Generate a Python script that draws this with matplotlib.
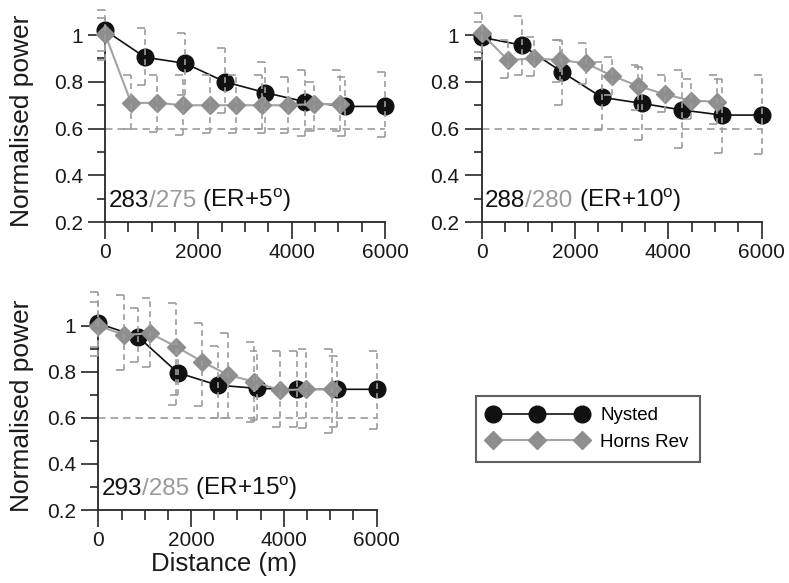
import matplotlib
matplotlib.use("Agg")
import matplotlib.pyplot as plt
from matplotlib.offsetbox import TextArea, HPacker, AnchoredOffsetbox
from matplotlib.ticker import MultipleLocator, FixedLocator, FuncFormatter

plt.rcParams['font.family'] = ['Liberation Sans', 'DejaVu Sans']
plt.rcParams['mathtext.fontset'] = 'custom'
plt.rcParams['mathtext.rm'] = 'Liberation Sans'
plt.rcParams['mathtext.it'] = 'Liberation Sans:italic'

# Distances (m) of the row positions for each farm
nysted_x = [0, 857, 1714, 2571, 3429, 4286, 5143, 6000]
hornsrev_x = [0, 560, 1120, 1680, 2240, 2800, 3360, 3920, 4480, 5040]

# Sector ER+5
ny5 = [1.02, 0.905, 0.879, 0.80, 0.754, 0.715, 0.695, 0.695]
ny5_lo = [0.93, 0.786, 0.745, 0.667, 0.58, 0.57, 0.57, 0.565]
ny5_hi = [1.107, 1.03, 1.008, 0.944, 0.886, 0.85, 0.82, 0.84]
hr5 = [1.005, 0.71, 0.71, 0.70, 0.70, 0.70, 0.70, 0.70, 0.705, 0.705]
hr5_lo = [0.893, 0.598, 0.586, 0.573, 0.58, 0.58, 0.60, 0.58, 0.59, 0.59]
hr5_hi = [1.073, 0.829, 0.83, 0.83, 0.83, 0.83, 0.83, 0.82, 0.80, 0.85]

# Sector ER+10
ny10 = [0.99, 0.957, 0.843, 0.734, 0.708, 0.68, 0.658, 0.658]
ny10_lo = [0.893, 0.83, 0.70, 0.594, 0.552, 0.516, 0.495, 0.492]
ny10_hi = [1.092, 1.08, 0.98, 0.886, 0.865, 0.85, 0.81, 0.83]
hr10 = [1.007, 0.893, 0.90, 0.893, 0.879, 0.825, 0.782, 0.747, 0.72, 0.715]
hr10_lo = [0.929, 0.815, 0.825, 0.80, 0.79, 0.744, 0.68, 0.67, 0.64, 0.62]
hr10_hi = [1.057, 0.98, 0.993, 0.98, 0.964, 0.905, 0.87, 0.83, 0.81, 0.83]

# Sector ER+15
ny15 = [1.01, 0.952, 0.796, 0.742, 0.728, 0.724, 0.724, 0.724]
ny15_lo = [0.87, 0.844, 0.70, 0.60, 0.59, 0.56, 0.56, 0.55]
ny15_hi = [1.148, 1.075, 0.92, 0.91, 0.89, 0.89, 0.87, 0.89]
hr15 = [1.0, 0.96, 0.967, 0.909, 0.844, 0.786, 0.757, 0.72, 0.724, 0.724]
hr15_lo = [0.909, 0.808, 0.82, 0.656, 0.65, 0.60, 0.58, 0.56, 0.554, 0.533]
hr15_hi = [1.104, 1.133, 1.119, 1.097, 1.01, 0.968, 0.93, 0.89, 0.90, 0.90]

# Wind direction labels: Nysted / Horns Rev (sector)
sector_labels = [("283", "275", "5"), ("288", "280", "10"), ("293", "285", "15")]
series_names = ["Nysted", "Horns Rev"]
REF_LEVEL = 0.6

x_ticks = [0, 2000, 4000, 6000]
y_ticks = [0.2, 0.4, 0.6, 0.8, 1.0]

BLACK = "#111111"
GREY_MARK = "#8e8e8e"
GREY_LINE = "#a3a3a3"
ERR = "#9c9c9c"
AXIS = "#262626"

fig = plt.figure(figsize=(7.89, 5.83), dpi=100)

axes_pos = [
    [0.1331, 0.6187, 0.3549, 0.3614],
    [0.6105, 0.6187, 0.3549, 0.3614],
    [0.1246, 0.1252, 0.3528, 0.3556],
]

datasets = [
    (ny5, ny5_lo, ny5_hi, hr5, hr5_lo, hr5_hi),
    (ny10, ny10_lo, ny10_hi, hr10, hr10_lo, hr10_hi),
    (ny15, ny15_lo, ny15_hi, hr15, hr15_lo, hr15_hi),
]

CAP = 170  # cap width in metres


def error_bars(ax, x, lo, hi):
    ax.vlines(x, lo, hi, colors=ERR, linestyles=[(0, (3.5, 2.5))],
              linewidth=1.2, zorder=6, clip_on=False)
    left = [xi - CAP for xi in x]
    ax.hlines(lo, left, x, colors=ERR, linewidth=1.2, zorder=6, clip_on=False)
    ax.hlines(hi, left, x, colors=ERR, linewidth=1.2, zorder=6, clip_on=False)


handles = None
for i, (pos, data, lab) in enumerate(zip(axes_pos, datasets, sector_labels)):
    ny, ny_lo, ny_hi, hr, hr_lo, hr_hi = data
    ax = fig.add_axes(pos)
    ax.set_xlim(0, 6000)
    ax.set_ylim(0.2, 1.1)
    for s in ("top", "right"):
        ax.spines[s].set_visible(False)
    for s in ("left", "bottom"):
        ax.spines[s].set_linewidth(1.3)
        ax.spines[s].set_color(AXIS)
    ax.spines["left"].set_bounds(0.2, 1.0)
    ax.spines["bottom"].set_bounds(0, 6000)

    ax.axhline(REF_LEVEL, color=ERR, linewidth=1.2,
               linestyle=(0, (4.5, 3)), zorder=1)

    l1, = ax.plot(nysted_x, ny, color=BLACK, linewidth=1.2, marker="o",
                  markersize=12, markerfacecolor=BLACK, markeredgecolor=BLACK,
                  zorder=3, clip_on=False)
    l2, = ax.plot(hornsrev_x, hr, color=GREY_LINE, linewidth=1.5, marker="D",
                  markersize=9, markerfacecolor=GREY_MARK,
                  markeredgecolor=GREY_MARK, zorder=4, clip_on=False)
    if handles is None:
        handles = [l1, l2]

    error_bars(ax, nysted_x, ny_lo, ny_hi)
    error_bars(ax, hornsrev_x, hr_lo, hr_hi)

    ax.xaxis.set_major_locator(FixedLocator(x_ticks))
    ax.xaxis.set_minor_locator(MultipleLocator(500))
    ax.yaxis.set_major_locator(FixedLocator(y_ticks))
    ax.yaxis.set_minor_locator(FixedLocator([0.3, 0.5, 0.7, 0.9]))
    ax.yaxis.set_major_formatter(FuncFormatter(lambda v, p: "%g" % v))
    ax.tick_params(axis="both", which="major", direction="out", length=12,
                   width=1.2, color=AXIS, labelsize=15, pad=4,
                   labelcolor="#1a1a1a")
    ax.tick_params(axis="x", which="major", pad=3)
    ax.tick_params(axis="y", which="minor", direction="out", length=6,
                   width=1.2, color=AXIS)
    ax.tick_params(axis="x", which="minor", direction="out", length=7,
                   width=1.2, color=AXIS)

    fs = 17.5
    parts = [
        TextArea(lab[0], textprops=dict(color=BLACK, fontsize=fs)),
        TextArea("/" + lab[1], textprops=dict(color="#9a9a9a", fontsize=fs)),
        TextArea(" (ER+" + lab[2] + r"$^{\mathregular{o}}$)",
                 textprops=dict(color=BLACK, fontsize=fs)),
    ]
    box = HPacker(children=parts, align="baseline", pad=0, sep=0)
    anch = AnchoredOffsetbox(loc="lower left", child=box, pad=0, borderpad=0,
                             frameon=False, bbox_to_anchor=(0.012, 0.04),
                             bbox_transform=ax.transAxes)
    ax.add_artist(anch)

# Axis titles
fig.text(22 / 789, 1 - 121 / 583, "Normalised power", rotation=90,
         ha="center", va="center", fontsize=19, color="#1a1a1a")
fig.text(22 / 789, 1 - 406 / 583, "Normalised power", rotation=90,
         ha="center", va="center", fontsize=19, color="#1a1a1a")
fig.text(224 / 789, 1 - 564 / 583, "Distance (m)", ha="center", va="center",
         fontsize=18.5, color="#1a1a1a")

leg = fig.legend(handles, series_names, loc="lower left",
                 bbox_to_anchor=(476 / 789, 1 - 462 / 583),
                 bbox_transform=fig.transFigure, borderaxespad=0,
                 numpoints=3, handlelength=5.35, handletextpad=0.67,
                 borderpad=0.6, labelspacing=0.5, fontsize=13.5,
                 fancybox=False, frameon=True)
leg.get_frame().set_edgecolor("#3a3a3a")
leg.get_frame().set_linewidth(1.5)

fig.savefig("out.png", dpi=100)
